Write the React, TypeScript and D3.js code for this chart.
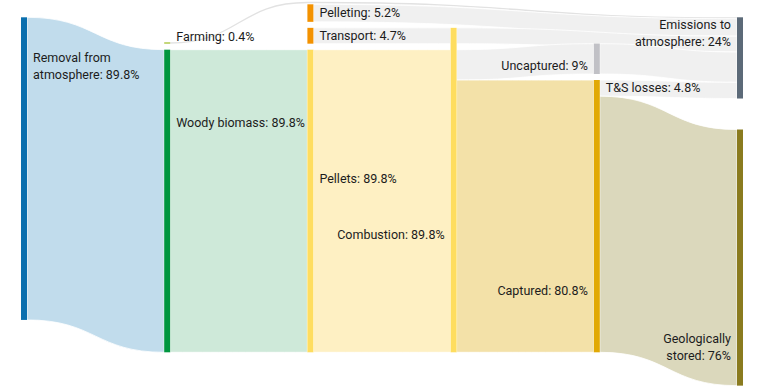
import React, { useMemo } from "react";
import * as d3 from "d3";

// nodes of the flow (shares in % of removed CO2)
const nodeIds = ["removal", "farming", "woody", "pelleting", "transport", "pellets", "combustion", "uncaptured", "captured", "emissions", "stored"];
const nodeNames = ["Removal from\natmosphere", "Farming", "Woody biomass", "Pelleting", "Transport", "Pellets", "Combustion", "Uncaptured", "Captured", "Emissions to\natmosphere", "Geologically\nstored"];
const nodeShares = [89.8, 0.4, 89.8, 5.2, 4.7, 89.8, 89.8, 9, 80.8, 24, 76];
const nodeColumns = [0, 1, 1, 2, 2, 2, 3, 4, 4, 5, 5];

// links, in stacking order
const linkSources = ["removal", "woody", "transport", "pellets", "farming", "pelleting", "combustion", "combustion", "combustion", "uncaptured", "captured", "captured"];
const linkTargets = ["woody", "pellets", "combustion", "combustion", "emissions", "emissions", "emissions", "uncaptured", "captured", "emissions", "emissions", "stored"];
const linkValues = [89.8, 89.8, 4.7, 89.8, 0.4, 5.2, 4.7, 9, 80.8, 9, 4.8, 76];
const linkNames = ["", "", "", "", "", "", "", "", "", "", "T&S losses", ""];

// styling / layout
const nodeColors = ["#0b6fae", "#a9c53c", "#00963f", "#f39200", "#f39200", "#fedd5f", "#fedd5f", "#c1c1c6", "#e1a904", "#5c6a78", "#8a7b1f"];
const linkColors = ["#c1dcec", "#cee9d9", "#f0f0f0", "#fef0c3", "#e2e2e2", "#f0f0f0", "#f0f0f0", "#f0f0f0", "#f3e1a8", "#f0f0f0", "#f0f0f0", "#dbd8bc"];
const labelSide = ["right", "right", "right", "right", "right", "right", "left", "left", "left", "left", "left"];
const labelFrac = [0.148, 0.5, 0.257, 0.5, 0.5, 0.44, 0.651, 0.88, 0.79, 0.138, 0.834];
const labelDy = [0, -2, 0, 4.4, 4.4, 0, 0, 0, 0, 0, 0];
const colAlign = ["top", "bottom", "bottom", "bottom", "bottom", "top"];
const colPad = [6, 6, 6, 6, 6, 31];
const padBeforeAtTarget = [3];
const padBeforeAtSource = [7];

const W = 764;
const H = 390;
const nodeW = 6;
const topY = 17.3;
const bottomY = 352.3;
const lineH = 17;
const font = "Roboto, sans-serif";

type N = { id: string; i: number; col: number; x0: number; x1: number; y0: number; y1: number };
type L = { i: number; s: N; t: N; w: number; sy0: number; sy1: number; ty0: number; ty1: number };

export default function App() {
  const { nodes, links } = useMemo(() => {
    const x = d3.scaleLinear().domain([0, 5]).range([21, 737]);
    const k = d3.scaleLinear().domain([0, 100]).range([0, 337]);

    const nodes: N[] = nodeIds.map((id, i) => ({ id, i, col: nodeColumns[i], x0: x(nodeColumns[i]), x1: x(nodeColumns[i]) + nodeW, y0: 0, y1: 0 }));
    const byId = new Map(nodes.map((n) => [n.id, n]));
    const widths = linkValues.map((v) => k(v));

    const heightOf = (n: N) => {
      let hin = 0, hout = 0;
      linkValues.forEach((_, j) => {
        if (linkTargets[j] === n.id) hin += widths[j] + (padBeforeAtTarget.includes(j) ? colPad[n.col] : 0);
        if (linkSources[j] === n.id) hout += widths[j] + (padBeforeAtSource.includes(j) ? colPad[n.col] : 0);
      });
      return Math.max(hin, hout, k(nodeShares[n.i]));
    };

    d3.range(6).forEach((c) => {
      const colNodes = nodes.filter((n) => n.col === c);
      if (colAlign[c] === "top") {
        let y = topY;
        colNodes.forEach((n) => { n.y0 = y; n.y1 = y + heightOf(n); y = n.y1 + colPad[c]; });
      } else {
        let y = bottomY;
        colNodes.slice().reverse().forEach((n) => { n.y1 = y; n.y0 = y - heightOf(n); y = n.y0 - colPad[c]; });
      }
    });

    const outOff = new Map(nodes.map((n) => [n.id, n.y0]));
    const inOff = new Map(nodes.map((n) => [n.id, n.y0]));
    const links: L[] = linkValues.map((v, j) => {
      const s = byId.get(linkSources[j])!;
      const t = byId.get(linkTargets[j])!;
      const w = widths[j];
      let so = outOff.get(s.id)! + (padBeforeAtSource.includes(j) ? colPad[s.col] : 0);
      let to = inOff.get(t.id)! + (padBeforeAtTarget.includes(j) ? colPad[t.col] : 0);
      outOff.set(s.id, so + w);
      inOff.set(t.id, to + w);
      return { i: j, s, t, w, sy0: so, sy1: so + w, ty0: to, ty1: to + w };
    });
    return { nodes, links };
  }, []);

  const byId = new Map(nodes.map((n) => [n.id, n]));

  const bandPath = (l: L) => {
    const x0 = l.s.x1, x1 = l.t.x0, xm = (x0 + x1) / 2;
    const p = d3.path();
    p.moveTo(x0, l.sy0);
    p.bezierCurveTo(xm, l.sy0, xm, l.ty0, x1, l.ty0);
    p.lineTo(x1, l.ty1);
    p.bezierCurveTo(xm, l.ty1, xm, l.sy1, x0, l.sy1);
    p.closePath();
    return p.toString();
  };

  // the farming flow is routed over the top of the pelleting node
  const routedPath = (l: L) => {
    const via = byId.get("pelleting")!;
    const wy = via.y0 - 1.8;
    const sm = (l.sy0 + l.sy1) / 2, tm = (l.ty0 + l.ty1) / 2;
    const a = l.s.x1, b = via.x0, c = via.x1, d = l.t.x0;
    const p = d3.path();
    p.moveTo(a, sm);
    p.bezierCurveTo((a + b) / 2, sm, (a + b) / 2, wy, b, wy);
    p.lineTo(c, wy);
    p.bezierCurveTo((c + d) / 2, wy, (c + d) / 2, tm, d, tm);
    return p.toString();
  };

  return (
    <div>
      <style>{`body{margin:0}`}</style>
      <svg width={W} height={H} style={{ display: "block", fontFamily: font }}>
        <g>
          {links.map((l) =>
            l.s.id === "farming" ? (
              <path key={l.i} d={routedPath(l)} fill="none" stroke={linkColors[l.i]} strokeWidth={Math.max(l.w, 1.3)} />
            ) : (
              <path key={l.i} d={bandPath(l)} fill={linkColors[l.i]} stroke="#fff" strokeWidth={0.8} />
            )
          )}
        </g>
        <g>
          {nodes.map((n) => (
            <rect key={n.id} x={n.x0} y={n.y0} width={nodeW} height={Math.max(n.y1 - n.y0, 1)} fill={nodeColors[n.i]} />
          ))}
        </g>
        <g fontSize={12.5} fill="#1c1c1c">
          {nodes.map((n) => {
            const right = labelSide[n.i] === "right";
            const tx = right ? n.x1 + 6 : n.x0 - 6;
            const base = n.y0 + labelFrac[n.i] * (n.y1 - n.y0) + labelDy[n.i];
            const lines = `${nodeNames[n.i]}: ${nodeShares[n.i]}%`.split("\n");
            return (
              <text key={n.id} x={tx} y={base} textAnchor={right ? "start" : "end"}>
                {lines.map((t, j) => (
                  <tspan key={j} x={tx} dy={j === 0 ? 0 : lineH}>{t}</tspan>
                ))}
              </text>
            );
          })}
          {links.filter((l) => linkNames[l.i]).map((l) => (
            <text key={`l${l.i}`} x={l.s.x1 + 6} y={(l.sy0 + l.sy1) / 2 + 4.4}>
              {`${linkNames[l.i]}: ${linkValues[l.i]}%`}
            </text>
          ))}
        </g>
      </svg>
    </div>
  );
}
